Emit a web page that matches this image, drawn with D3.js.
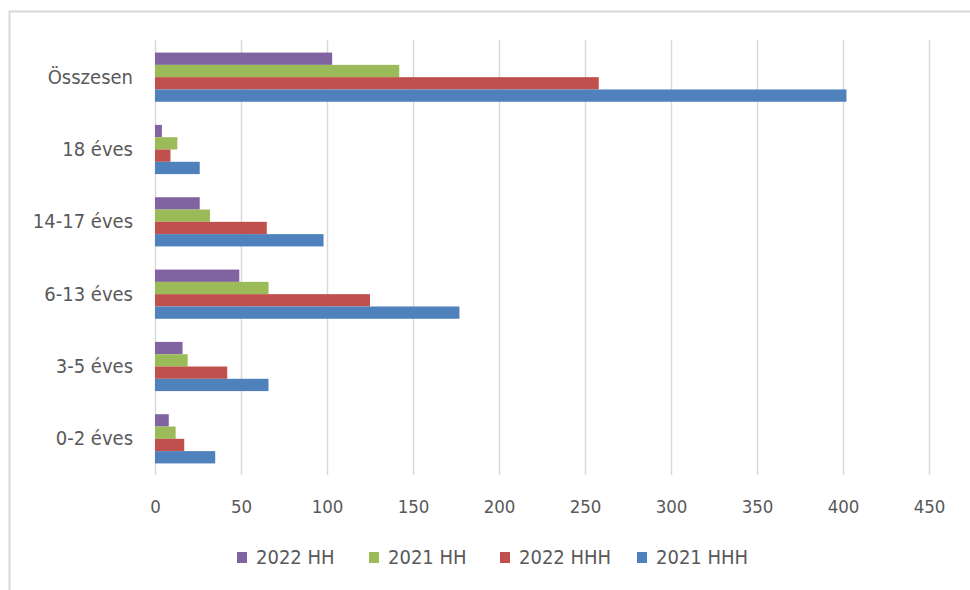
<!DOCTYPE html>
<html>
<head>
<meta charset="utf-8">
<script src="https://cdn.jsdelivr.net/npm/d3@7"></script>
<style>
  body { margin: 0; background: #fff; }
  svg text { font-family: "Liberation Sans Narrow", "DejaVu Sans Condensed", "Roboto", sans-serif; fill: #595959; }
</style>
</head>
<body>
<main></main>
<script>
const categories = ["Összesen", "18 éves", "14-17 éves", "6-13 éves", "3-5 éves", "0-2 éves"]
const seriesNames = ["2022 HH", "2021 HH", "2022 HHH", "2021 HHH"]
const hh2022 = [103, 4, 26, 49, 16, 8]
const hh2021 = [142, 13, 32, 66, 19, 12]
const hhh2022 = [258, 9, 65, 125, 42, 17]
const hhh2021 = [402, 26, 98, 177, 66, 35]
const xTicks = [0, 50, 100, 150, 200, 250, 300, 350, 400, 450]
const colors = ["#8064A2", "#9BBB59", "#C0504D", "#4F81BD"]

const seriesValues = [hh2022, hh2021, hhh2022, hhh2021]

const w = 970
const h = 590
const plotLeft = 155
const plotRight = 929
const plotTop = 41
const plotBottom = 475

const svg = d3.select("main").append("svg").attr("width", w).attr("height", h)

// chart frame
svg.append("rect")
  .attr("x", 9.5).attr("y", 11.5)
  .attr("width", w + 20).attr("height", h + 20)
  .attr("fill", "none").attr("stroke", "#d9d9d9").attr("stroke-width", 2)

const xScale = d3.scaleLinear().domain([0, 450]).range([plotLeft, plotRight])
const yScale = d3.scaleBand().domain(categories).range([plotTop, plotBottom])
  .paddingInner(0.32).paddingOuter(0.16)
const inner = d3.scaleBand().domain(seriesNames).range([0, yScale.bandwidth()])

// gridlines
svg.append("g").selectAll("line").data(xTicks).enter().append("line")
  .attr("x1", (d) => Math.round(xScale(d)) + 0.5)
  .attr("x2", (d) => Math.round(xScale(d)) + 0.5)
  .attr("y1", plotTop - 1).attr("y2", plotBottom)
  .attr("stroke", "#d9d9d9").attr("stroke-width", 1.5)

// bars
const rows = []
categories.forEach((c, i) => {
  seriesNames.forEach((s, j) => {
    rows.push({ cat: c, series: s, value: seriesValues[j][i], color: colors[j] })
  })
})

svg.append("g").selectAll("rect").data(rows).enter().append("rect")
  .attr("x", xScale(0))
  .attr("y", (d) => yScale(d.cat) + inner(d.series))
  .attr("width", (d) => xScale(d.value) - xScale(0))
  .attr("height", inner.bandwidth())
  .attr("fill", (d) => d.color)

// x axis labels
const xAxis = d3.axisBottom(xScale).tickValues(xTicks).tickSize(0).tickPadding(0)
const gx = svg.append("g").attr("transform", `translate(0, 499)`).call(xAxis)
gx.select(".domain").remove()
gx.attr("font-family", null).attr("font-size", null)
gx.selectAll("text").attr("font-size", 18.5).attr("dy", "0.75em").attr("fill", null)

// category labels
const yAxis = d3.axisLeft(yScale).tickSize(0).tickPadding(0)
const gy = svg.append("g").attr("transform", `translate(133, 0)`).call(yAxis)
gy.select(".domain").remove()
gy.attr("font-family", null).attr("font-size", null)
gy.selectAll("text").attr("font-size", 20).attr("fill", null)

// legend
const legendX = [237, 369, 500, 637]
const legend = svg.append("g").selectAll("g").data(seriesNames).enter().append("g")
  .attr("transform", (d, i) => `translate(${legendX[i]}, 557)`)
legend.append("rect")
  .attr("x", 0).attr("y", -5).attr("width", 10).attr("height", 11)
  .attr("fill", (d, i) => colors[i])
legend.append("text")
  .attr("x", 19).attr("y", 0).attr("dy", "0.35em")
  .attr("font-size", 20)
  .text((d) => d)
</script>
</body>
</html>
